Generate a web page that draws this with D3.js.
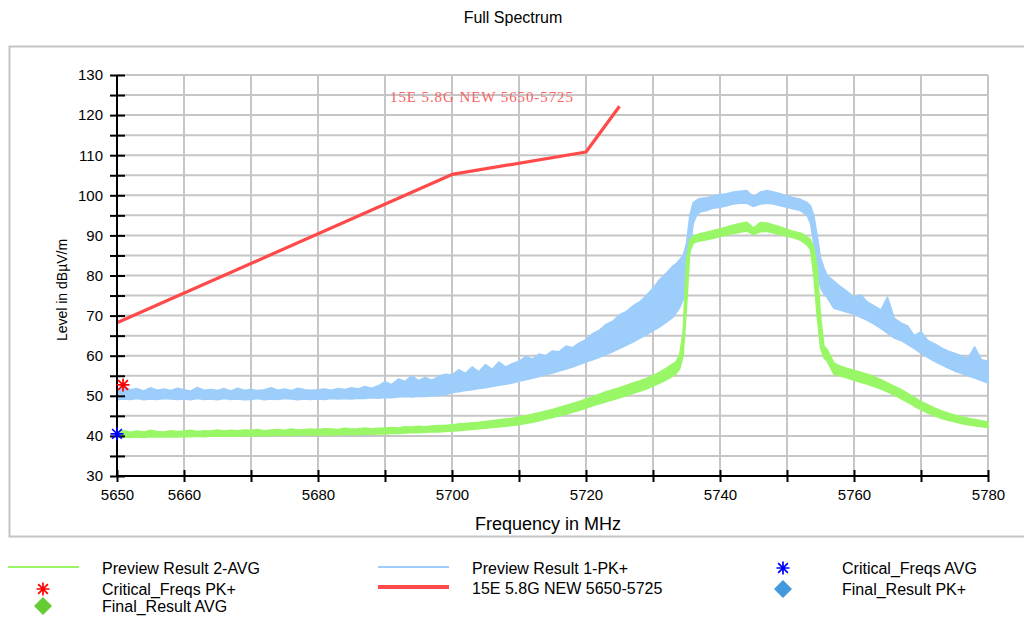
<!DOCTYPE html>
<html>
<head>
<meta charset="utf-8">
<script src="https://cdn.jsdelivr.net/npm/d3@7"></script>
<style>
  html, body { margin: 0; padding: 0; background: #fff; }
  svg { display: block; font-family: "Liberation Sans", Arial, sans-serif; }
</style>
</head>
<body>
<svg id="chart" width="1024" height="617"></svg>
<script>
// Frequency sample points (MHz); finer steps across the channel edges
const freqMHz = [
  5650,5651,5652,5653,5654,5655,5656,5657,5658,5659,
  5660,5661,5662,5663,5664,5665,5666,5667,5668,5669,
  5670,5671,5672,5673,5674,5675,5676,5677,5678,5679,
  5680,5681,5682,5683,5684,5685,5686,5687,5688,5689,
  5690,5691,5692,5693,5694,5695,5696,5697,5698,5699,
  5700,5701,5702,5703,5704,5705,5706,5707,5708,5709,
  5710,5711,5712,5713,5714,5715,5716,5717,5718,5719,
  5720,5721,5722,5723,5724,5725,5726,5727,5728,5729,
  5730,5731,5732,5733,
  5733.5,5734,5734.5,5735,5735.5,5736,5736.5,5737,
  5738,5739,5740,5741,5742,5743,5744,5745,5746,5747,
  5748,5749,5750,5751,5752,
  5752.5,5753,5753.5,5754,5754.5,5755,5755.5,5756,
  5757,5758,5759,5760,5761,5762,5763,5764,5765,5766,
  5767,5768,5769,5770,5771,5772,5773,5774,5775,5776,
  5777,5778,5779,5780
];

// Preview Result 1-PK+ : lower / upper envelope of the sweep (dBµV/m)
const pkLow = [
  49.0,49.2,49.1,49.3,49.0,49.2,49.1,49.3,49.2,49.1,
  49.2,49.0,49.3,49.1,49.2,49.0,49.3,49.1,49.2,49.0,
  49.1,49.3,49.0,49.2,49.1,49.3,49.2,49.0,49.2,49.1,
  49.2,49.1,49.3,49.2,49.3,49.2,49.4,49.3,49.5,49.4,
  49.6,49.5,49.7,49.8,49.7,49.9,49.8,50.0,50.1,50.2,
  50.8,51.0,51.3,51.5,51.8,52.0,52.3,52.6,52.9,53.2,
  53.6,54.0,54.4,54.8,55.3,55.7,56.2,56.7,57.2,57.8,
  58.4,59.0,59.6,60.3,61.0,61.8,62.6,63.4,64.3,65.2,
  66.2,67.2,68.4,69.6,
  70.8,72.0,74.0,78.0,86.0,93.0,95.0,95.8,
  96.2,96.8,97.0,97.4,97.8,98.0,98.0,97.2,97.8,98.0,
  97.8,97.4,97.0,96.6,96.2,
  95.6,95.0,93.0,88.0,82.0,77.0,75.5,74.5,
  71.8,71.3,70.8,70.4,69.6,68.8,67.9,66.8,65.6,64.4,
  63.8,62.8,61.8,60.6,59.6,58.6,57.8,57.0,56.2,55.6,
  55.0,54.4,53.8,53.2
];
const pkHigh = [
  51.3,52.4,51.5,51.8,51.2,52.0,51.4,51.7,51.3,51.9,
  51.5,51.2,52.1,51.4,51.6,51.3,51.8,51.2,51.9,51.4,
  51.6,51.3,51.5,52.0,51.4,51.7,51.3,51.9,51.5,51.4,
  51.5,51.7,51.4,51.8,51.6,52.0,51.7,52.3,51.9,52.5,
  53.5,52.8,54.2,53.6,55.0,53.8,54.6,53.9,54.8,55.4,
  55.2,56.5,55.6,57.2,56.0,57.8,56.6,58.4,57.2,58.0,
  58.6,59.8,59.2,60.4,60.0,61.2,61.0,62.4,62.0,63.2,
  64.0,65.5,66.4,67.8,68.6,70.2,71.0,72.4,73.4,75.0,
  76.8,79.0,80.6,82.4,
  83.0,84.0,85.0,88.0,95.0,98.2,98.8,99.2,
  99.4,99.8,100.2,100.4,100.8,101.0,101.2,99.6,100.8,101.2,
  100.8,100.4,99.8,99.4,99.0,
  98.6,98.2,97.4,95.0,90.0,84.5,82.0,80.0,
  78.6,77.2,76.0,74.6,75.2,73.4,72.4,71.4,74.6,69.4,
  68.2,67.4,65.0,66.0,63.8,63.0,62.0,61.2,60.6,60.0,
  59.4,62.2,59.0,58.6
];

// Preview Result 2-AVG : lower / upper envelope of the sweep (dBµV/m)
const avgLow = [
  39.6,39.7,39.6,39.7,39.6,39.8,39.7,39.7,39.8,39.7,
  39.8,39.8,39.9,39.8,39.9,39.9,40.0,39.9,40.0,40.0,
  40.0,40.1,40.0,40.1,40.1,40.2,40.1,40.2,40.2,40.2,
  40.2,40.3,40.2,40.3,40.3,40.4,40.3,40.4,40.4,40.5,
  40.5,40.6,40.6,40.7,40.8,40.8,40.9,41.0,41.0,41.1,
  41.2,41.3,41.5,41.6,41.8,41.9,42.1,42.2,42.4,42.6,
  42.8,43.1,43.4,43.8,44.2,44.6,45.0,45.4,45.9,46.4,
  46.9,47.5,48.0,48.5,49.0,49.5,50.0,50.6,51.1,51.7,
  52.4,53.2,54.0,55.0,
  55.6,56.8,60.0,72.0,86.0,88.0,88.4,88.6,
  88.9,89.3,89.7,90.1,90.5,90.8,91.1,90.2,90.9,91.0,
  90.6,90.2,89.8,89.4,88.8,
  88.2,87.6,86.5,80.0,70.0,62.0,59.5,58.6,
  55.4,54.9,54.4,53.9,53.4,52.9,52.3,51.7,51.0,50.2,
  49.3,48.4,47.4,46.5,45.7,45.0,44.4,43.9,43.5,43.1,
  42.8,42.5,42.3,42.1
];
const avgHigh = [
  41.0,41.3,40.9,41.2,41.0,41.4,41.1,41.0,41.3,41.1,
  41.2,41.4,41.1,41.3,41.2,41.5,41.2,41.4,41.3,41.5,
  41.4,41.6,41.3,41.5,41.6,41.4,41.7,41.5,41.6,41.7,
  41.6,41.8,41.7,41.6,41.9,41.7,41.8,42.0,41.8,41.9,
  42.0,42.1,42.0,42.3,42.2,42.4,42.3,42.5,42.6,42.6,
  42.8,43.0,43.1,43.3,43.4,43.6,43.8,44.0,44.2,44.4,
  44.7,45.0,45.4,45.8,46.2,46.6,47.1,47.6,48.1,48.6,
  49.2,49.8,50.4,51.0,51.5,52.0,52.6,53.2,53.7,54.3,
  55.0,55.9,56.9,58.0,
  58.6,60.5,66.0,84.0,89.0,89.8,90.1,90.4,
  90.8,91.2,91.6,92.1,92.6,93.0,93.3,91.8,93.2,93.1,
  92.6,92.1,91.5,91.0,90.6,
  90.2,89.6,89.0,87.0,82.0,70.0,62.5,61.5,
  58.2,57.4,56.8,56.4,55.9,55.4,54.8,54.0,53.2,52.4,
  51.6,50.6,49.6,48.6,47.8,47.0,46.3,45.7,45.2,44.8,
  44.4,44.1,43.8,43.5
];

// 15E 5.8G limit line breakpoints
const limitFreq  = [5650, 5700, 5720, 5725];
const limitLevel = [68.2, 105.2, 110.8, 122.2];
const limitName  = "15E 5.8G NEW 5650-5725";

// Critical frequencies
const critPkFreq  = [5650.9];
const critPkLevel = [52.7];
const critAvgFreq  = [5650.0];
const critAvgLevel = [40.5];

// Axis ticks
const yTicks = [30,35,40,45,50,55,60,65,70,75,80,85,90,95,100,105,110,115,120,125,130];
const yTickLabels = [30,40,50,60,70,80,90,100,110,120,130];
const xTicks = [5650,5660,5670,5680,5690,5700,5710,5720,5730,5740,5750,5760,5770,5780];
const xTickLabels = [5650,5660,5680,5700,5720,5740,5760,5780];

const C = {
  pk: "#9dcdfb",
  avg: "#99f767",
  limit: "#ff4a4a",
  limitText: "#f86464",
  critPk: "#ff0000",
  critAvg: "#0000ff",
  finalAvg: "#66cc33",
  finalPk: "#4499dd",
  grid: "#c6c6c6",
  frame: "#c4c4c4"
};

const svg = d3.select("#chart");

// Outer frame
svg.append("rect")
  .attr("x", 9.5).attr("y", 46.5).attr("width", 1020).attr("height", 490)
  .attr("fill", "none").attr("stroke", C.frame).attr("stroke-width", 2);

// Title
svg.append("text")
  .attr("x", 513).attr("y", 23).attr("text-anchor", "middle")
  .attr("font-size", 16).attr("fill", "#000").text("Full Spectrum");

const x = d3.scaleLinear().domain([5650, 5780]).range([117, 988]);
const y = d3.scaleLinear().domain([30, 130]).range([476, 75]);

// Grid
const grid = svg.append("g");
grid.selectAll("line.h").data(yTicks.filter(v => v > 30)).join("line")
  .attr("x1", x(5650)).attr("x2", x(5780))
  .attr("y1", d => y(d)).attr("y2", d => y(d))
  .attr("stroke", C.grid).attr("stroke-width", 2);
grid.selectAll("line.v").data(xTicks.filter(v => v > 5650)).join("line")
  .attr("x1", d => x(d)).attr("x2", d => x(d))
  .attr("y1", y(130)).attr("y2", y(30))
  .attr("stroke", C.grid).attr("stroke-width", 2);

// Traces
const idx = d3.range(freqMHz.length);
function band(lo, hi) {
  return d3.area()
    .x(i => x(freqMHz[i]))
    .y0(i => y(lo[i]))
    .y1(i => y(hi[i]))(idx);
}
svg.append("path").attr("d", band(pkLow, pkHigh))
  .attr("fill", C.pk).attr("stroke", C.pk).attr("stroke-width", 1.5)
  .attr("stroke-linejoin", "round");
svg.append("path").attr("d", band(avgLow, avgHigh))
  .attr("fill", C.avg).attr("stroke", C.avg).attr("stroke-width", 1.5)
  .attr("stroke-linejoin", "round");

// Limit line
const limitLine = d3.line().x(i => x(limitFreq[i])).y(i => y(limitLevel[i]));
svg.append("path").attr("d", limitLine(d3.range(limitFreq.length)))
  .attr("fill", "none").attr("stroke", C.limit).attr("stroke-width", 3.2)
  .attr("stroke-linejoin", "round");

svg.append("text")
  .attr("x", 390).attr("y", 102)
  .attr("font-family", "'Liberation Serif', 'Times New Roman', serif")
  .attr("font-size", 15).attr("fill", C.limitText)
  .attr("textLength", 183).attr("lengthAdjust", "spacing")
  .text(limitName);

// Axes
const yAxis = svg.append("g").attr("transform", `translate(${x(5650)},0)`)
  .call(d3.axisLeft(y).tickValues(yTicks).tickSize(7)
    .tickFormat(d => yTickLabels.includes(d) ? d : ""));
yAxis.select(".domain").remove();
yAxis.selectAll(".tick line").attr("x1", -7).attr("x2", 8)
  .attr("stroke", "#000").attr("stroke-width", 2);
yAxis.selectAll(".tick text").attr("x", -14).attr("font-size", 15)
  .attr("font-family", "'Liberation Sans', Arial, sans-serif").attr("fill", "#000");
yAxis.append("line").attr("x1", 0).attr("x2", 0)
  .attr("y1", y(130)).attr("y2", y(30)).attr("stroke", "#000").attr("stroke-width", 2);

const xAxis = svg.append("g").attr("transform", `translate(0,${y(30)})`)
  .call(d3.axisBottom(x).tickValues(xTicks).tickSize(6)
    .tickFormat(d => xTickLabels.includes(d) ? d : ""));
xAxis.select(".domain").remove();
xAxis.selectAll(".tick line").attr("y1", -6).attr("y2", 6)
  .attr("stroke", "#000").attr("stroke-width", 2);
xAxis.selectAll(".tick text").attr("y", 13).attr("font-size", 15)
  .attr("font-family", "'Liberation Sans', Arial, sans-serif").attr("fill", "#000");
xAxis.append("line").attr("x1", x(5650)).attr("x2", x(5780))
  .attr("y1", 0).attr("y2", 0).attr("stroke", "#000").attr("stroke-width", 2);

// Axis titles
svg.append("text")
  .attr("x", 548).attr("y", 530).attr("text-anchor", "middle")
  .attr("font-size", 18).text("Frequency in MHz");
svg.append("text")
  .attr("transform", "translate(67,290) rotate(-90)")
  .attr("text-anchor", "middle").attr("font-size", 14)
  .text("Level in dBµV/m");

// Asterisk marker
function asterisk(g, cx, cy, r, color) {
  const p = d3.path();
  p.moveTo(cx, cy - r); p.lineTo(cx, cy + r);
  p.moveTo(cx - r, cy); p.lineTo(cx + r, cy);
  const k = r * 0.75;
  p.moveTo(cx - k, cy - k); p.lineTo(cx + k, cy + k);
  p.moveTo(cx - k, cy + k); p.lineTo(cx + k, cy - k);
  g.append("path").attr("d", p.toString())
    .attr("stroke", color).attr("stroke-width", 1.7).attr("fill", "none");
}
function diamond(g, cx, cy, r, color) {
  g.append("path")
    .attr("d", `M${cx},${cy - r}L${cx + r},${cy}L${cx},${cy + r}L${cx - r},${cy}Z`)
    .attr("fill", color);
}

const marks = svg.append("g");
critPkFreq.forEach((f, i) => asterisk(marks, x(f), y(critPkLevel[i]), 6.5, C.critPk));
critAvgFreq.forEach((f, i) => asterisk(marks, x(f), y(critAvgLevel[i]), 6.5, C.critAvg));

// Legend
const lg = svg.append("g").attr("font-size", 16);
const legendItems = [
  { kind: "line", color: C.avg, w: 2, lx: 8, tx: 102, cy: 568, label: "Preview Result 2-AVG" },
  { kind: "line", color: C.pk, w: 2, lx: 378, tx: 472, cy: 568, label: "Preview Result 1-PK+" },
  { kind: "ast", color: C.critAvg, mx: 783, tx: 842, cy: 568, label: "Critical_Freqs AVG" },
  { kind: "ast", color: C.critPk, mx: 43, tx: 102, cy: 589, label: "Critical_Freqs PK+" },
  { kind: "line", color: C.limit, w: 4, lx: 378, tx: 472, cy: 588, label: limitName },
  { kind: "dia", color: C.finalPk, mx: 783, tx: 842, cy: 589, label: "Final_Result PK+" },
  { kind: "dia", color: C.finalAvg, mx: 43, tx: 102, cy: 606, label: "Final_Result AVG" }
];
legendItems.forEach(it => {
  if (it.kind === "line") {
    lg.append("line").attr("x1", it.lx).attr("x2", it.lx + 71)
      .attr("y1", it.cy - 1).attr("y2", it.cy - 1)
      .attr("stroke", it.color).attr("stroke-width", it.w);
  } else if (it.kind === "ast") {
    asterisk(lg, it.mx, it.cy, 6.5, it.color);
  } else {
    diamond(lg, it.mx, it.cy, 9, it.color);
  }
  lg.append("text").attr("x", it.tx).attr("y", it.cy + 6).text(it.label);
});
</script>
</body>
</html>
